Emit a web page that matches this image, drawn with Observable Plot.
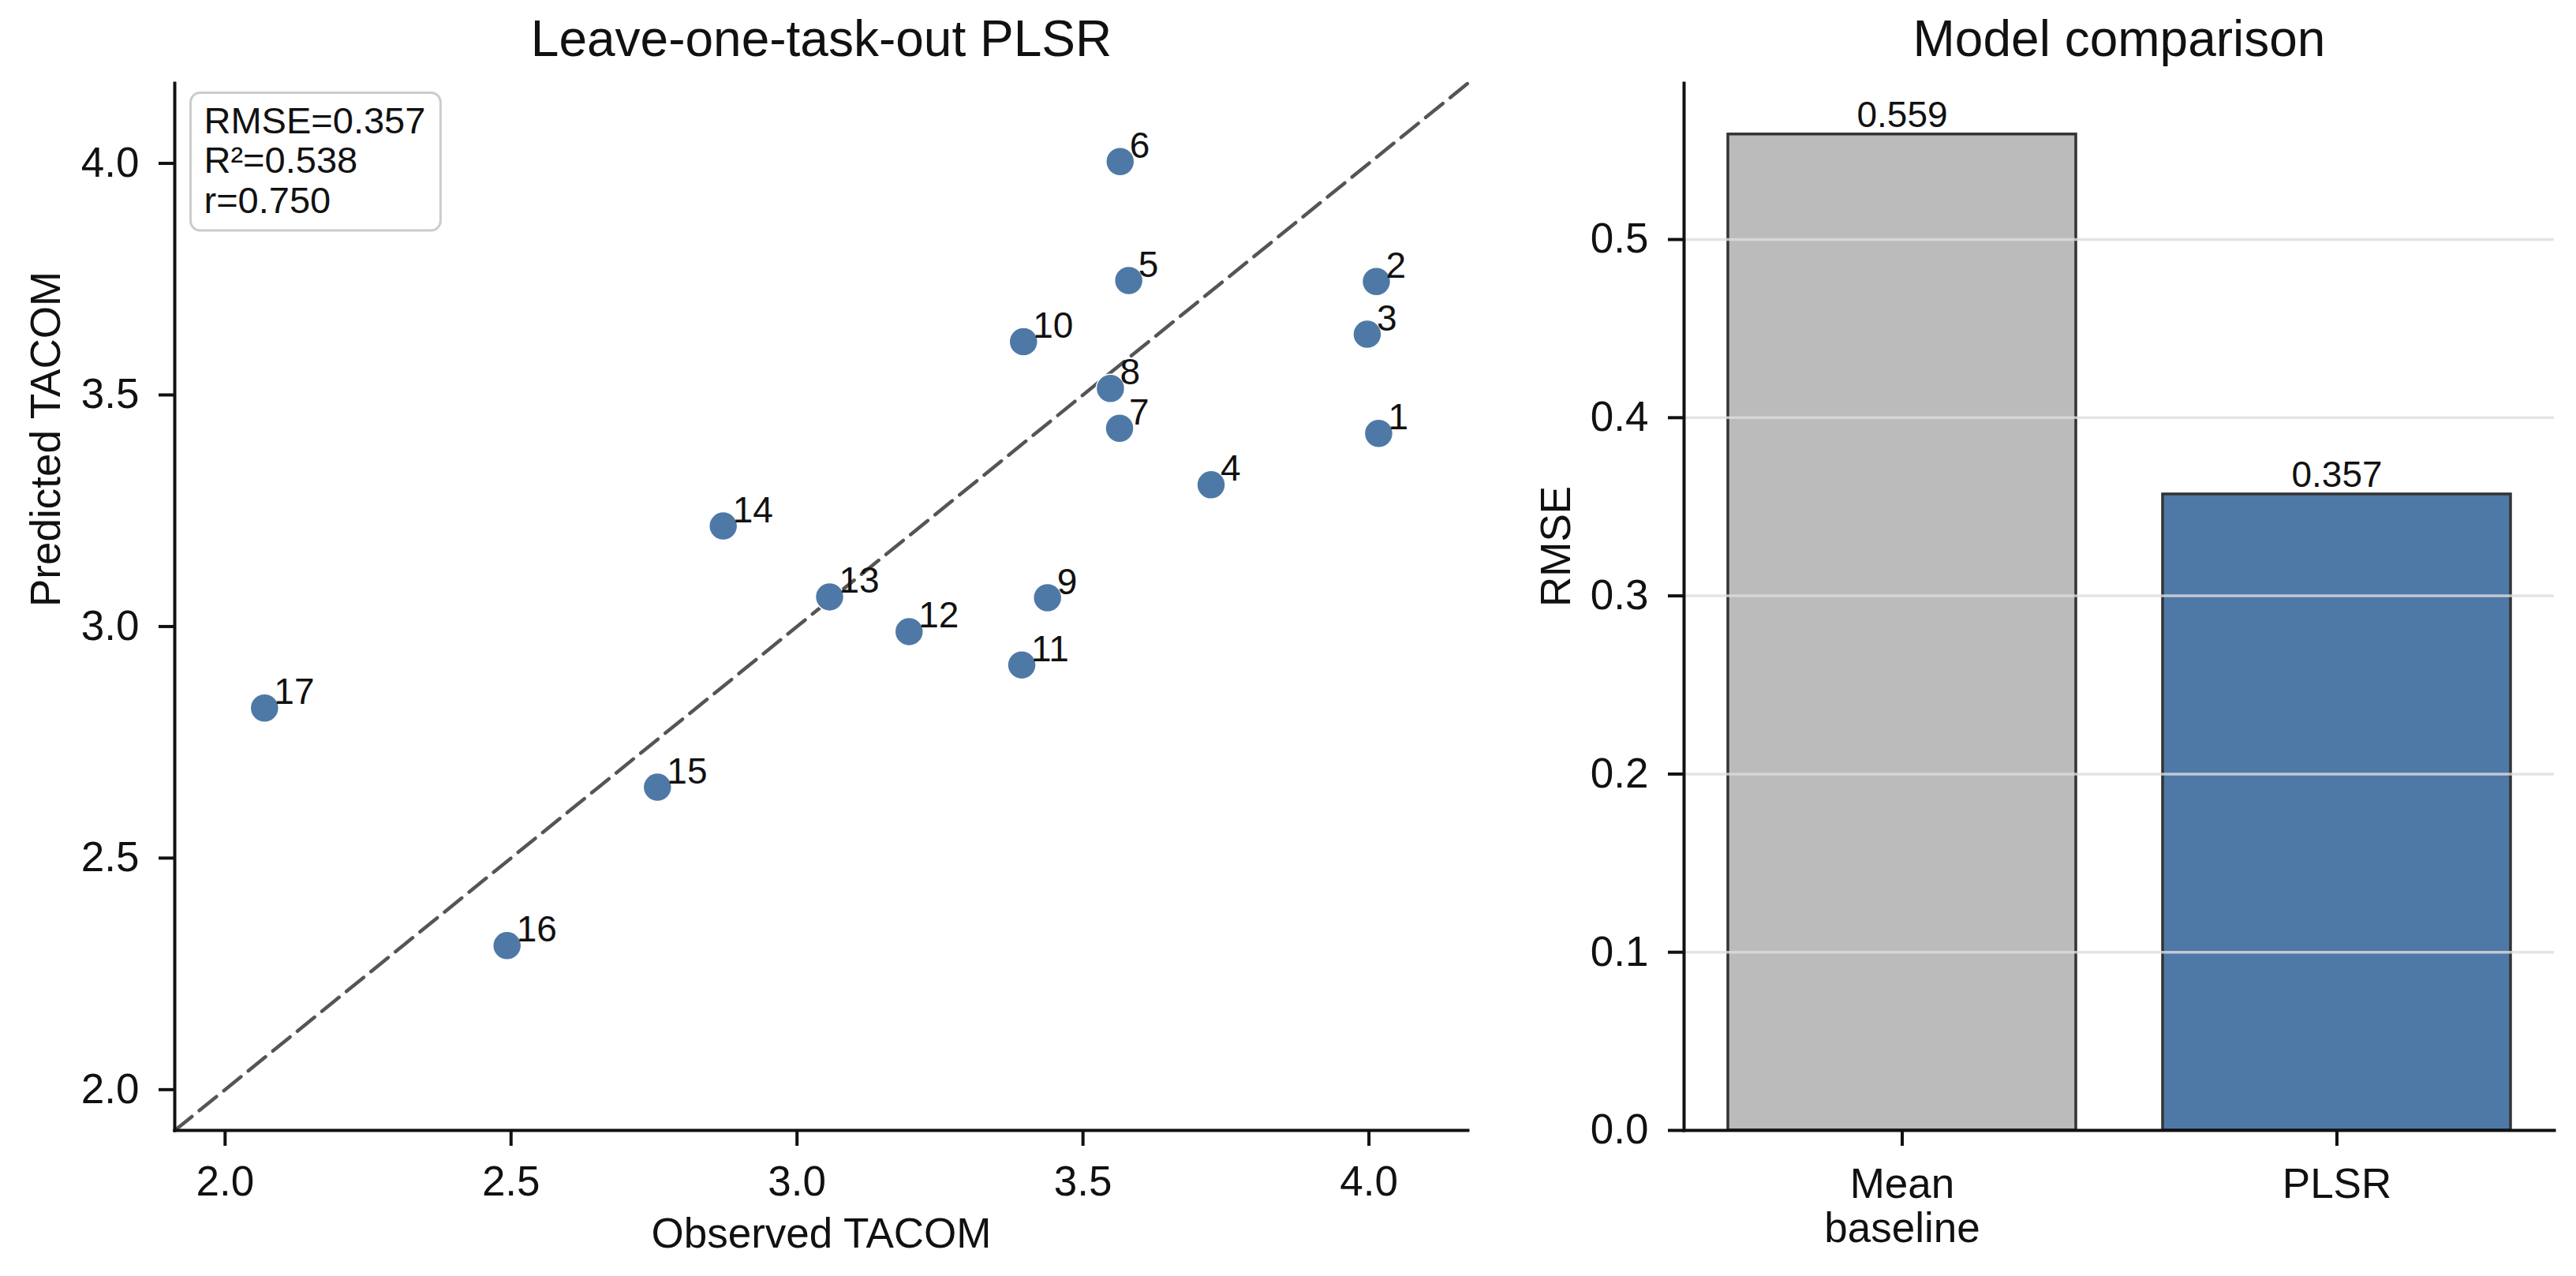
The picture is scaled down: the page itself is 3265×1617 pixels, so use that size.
<!DOCTYPE html>
<html>
<head>
<meta charset="utf-8">
<script src="https://cdn.jsdelivr.net/npm/d3@7"></script>
<script src="https://cdn.jsdelivr.net/npm/@observablehq/plot@0.6"></script>
<style>
html, body { margin: 0; padding: 0; background: #fff; }
#wrap { position: relative; width: 3265px; height: 1617px; font-family: "Liberation Sans", Arial, sans-serif; }
#left { position: absolute; left: 0; top: 0; }
#right { position: absolute; left: 1900px; top: 0; }
</style>
</head>
<body>
<div id="wrap"><div id="left"></div><div id="right"></div></div>
<script>
// ---- Data ----
const taskIds   = [1, 2, 3, 4, 5, 6, 7, 8, 9, 10, 11, 12, 13, 14, 15, 16, 17];
const observed  = [4.017, 4.013, 3.997, 3.724, 3.580, 3.565, 3.564, 3.548, 3.438, 3.396, 3.393, 3.196, 3.057, 2.871, 2.756, 2.493, 2.069];
const predicted = [3.417, 3.745, 3.631, 3.306, 3.747, 4.004, 3.428, 3.514, 3.062, 3.615, 2.917, 2.989, 3.064, 3.217, 2.653, 2.311, 2.824];
const axisLimits = [1.912, 4.173];
const scatterTicks = [2.0, 2.5, 3.0, 3.5, 4.0];
const statNames  = ["RMSE", "R²", "r"];
const statValues = [0.357, 0.538, 0.750];

const models      = ["Mean baseline", "PLSR"];
const modelLabels = ["Mean\nbaseline", "PLSR"];
const rmseValues  = [0.559, 0.357];
const barColors   = ["#bbbbbb", "#4e79a7"];
const rmseTicks   = [0.0, 0.1, 0.2, 0.3, 0.4, 0.5];
const rmseDomain  = [0, 0.5877];

// ---- Derived tables ----
const points = taskIds.map((id, i) => ({id, obs: observed[i], pred: predicted[i]}));
const identityLine = axisLimits.map(v => ({x: v, y: v}));
const statText = statNames.map((n, i) => `${n}=${statValues[i].toFixed(3)}`).join("\n");
const bars = models.map((m, i) => ({model: m, rmse: rmseValues[i], color: barColors[i]}));

const FONT = "'Liberation Sans', Arial, sans-serif";
const fmt1 = d3.format(".1f");
const axisStyle = {tickSize: 20, tickPadding: 25, fontSize: 53, strokeWidth: 4, label: null};

// ---- Left: scatter ----
const left = Plot.plot({
  width: 1900, height: 1617,
  marginTop: 105, marginLeft: 221, marginRight: 40, marginBottom: 185,
  style: {fontFamily: FONT, fontSize: "53px", background: "white", overflow: "visible", color: "#111"},
  x: {domain: axisLimits},
  y: {domain: axisLimits},
  marks: [
    Plot.line(identityLine, {x: "x", y: "y", stroke: "#555", strokeWidth: 4.5, strokeDasharray: "28,12"}),
    Plot.dot(points, {x: "obs", y: "pred", r: 18, fill: "#4e79a7", stroke: "white", strokeWidth: 1.5}),
    Plot.text(points, {x: "obs", y: "pred", text: d => String(d.id), dx: 12, dy: -5,
      textAnchor: "start", lineAnchor: "bottom", fontSize: 46, fill: "#111"}),
    Plot.frame({anchor: "left", strokeWidth: 4, stroke: "#111"}),
    Plot.frame({anchor: "bottom", strokeWidth: 4, stroke: "#111"}),
    Plot.axisX({...axisStyle, ticks: scatterTicks, tickFormat: fmt1}),
    Plot.axisY({...axisStyle, ticks: scatterTicks, tickFormat: fmt1}),
    Plot.text([statText], {frameAnchor: "top-left", dx: 37, dy: 27, textAnchor: "start", lineAnchor: "top",
      fontSize: 47, lineHeight: 1.08, fill: "#111", className: "stat-box"}),
    Plot.text(["Leave-one-task-out PLSR"], {frameAnchor: "top", dy: -35, lineAnchor: "bottom", fontSize: 64, fill: "#111"}),
    Plot.text(["Observed TACOM"], {frameAnchor: "bottom", dy: 148, lineAnchor: "bottom", fontSize: 53, fill: "#111"}),
    Plot.text(["Predicted TACOM"], {frameAnchor: "left", dx: -146, rotate: -90, lineAnchor: "bottom", fontSize: 53, fill: "#111"})
  ]
});
document.getElementById("left").appendChild(left);

// rounded box behind the stats text (inserted inside the text group so it shares its transform)
{
  const g = left.querySelector("g.stat-box") || left.querySelector(".stat-box");
  if (g) {
    const bb = g.getBBox();
    const ns = "http://www.w3.org/2000/svg";
    const rect = document.createElementNS(ns, "rect");
    rect.setAttribute("x", bb.x - 17);
    rect.setAttribute("y", bb.y - 8);
    rect.setAttribute("width", bb.width + 36);
    rect.setAttribute("height", bb.height + 20);
    rect.setAttribute("rx", 12);
    rect.setAttribute("fill", "white");
    rect.setAttribute("fill-opacity", 0.85);
    rect.setAttribute("stroke", "#cccccc");
    rect.setAttribute("stroke-width", 3);
    g.insertBefore(rect, g.firstChild);
  }
}

// ---- Right: bar chart ----
const right = Plot.plot({
  width: 1365, height: 1617,
  marginTop: 105, marginLeft: 234, marginRight: 28, marginBottom: 185,
  style: {fontFamily: FONT, fontSize: "53px", background: "white", overflow: "visible", color: "#111"},
  x: {domain: models, paddingInner: 0.2, paddingOuter: 0.1, align: 0.5},
  y: {domain: rmseDomain},
  color: {type: "identity"},
  marks: [
    Plot.barY(bars, {x: "model", y: "rmse", fill: "color", stroke: "#333", strokeWidth: 3.5}),
    Plot.gridY(rmseTicks.filter(d => d > 0), {stroke: "#dddddd", strokeOpacity: 0.8, strokeWidth: 3.5}),
    Plot.text(bars, {x: "model", y: "rmse", text: d => d.rmse.toFixed(3), dy: -9, lineAnchor: "bottom", fontSize: 46, fill: "#111"}),
    Plot.frame({anchor: "left", strokeWidth: 4, stroke: "#111"}),
    Plot.frame({anchor: "bottom", strokeWidth: 4, stroke: "#111"}),
    Plot.axisX({...axisStyle, tickFormat: d => modelLabels[models.indexOf(d)], lineHeight: 1.07}),
    Plot.axisY({...axisStyle, ticks: rmseTicks, tickFormat: fmt1}),
    Plot.text(["Model comparison"], {frameAnchor: "top", dy: -35, lineAnchor: "bottom", fontSize: 64, fill: "#111"}),
    Plot.text(["RMSE"], {frameAnchor: "left", dx: -145, rotate: -90, lineAnchor: "bottom", fontSize: 53, fill: "#111"})
  ]
});
document.getElementById("right").appendChild(right);
</script>
</body>
</html>
